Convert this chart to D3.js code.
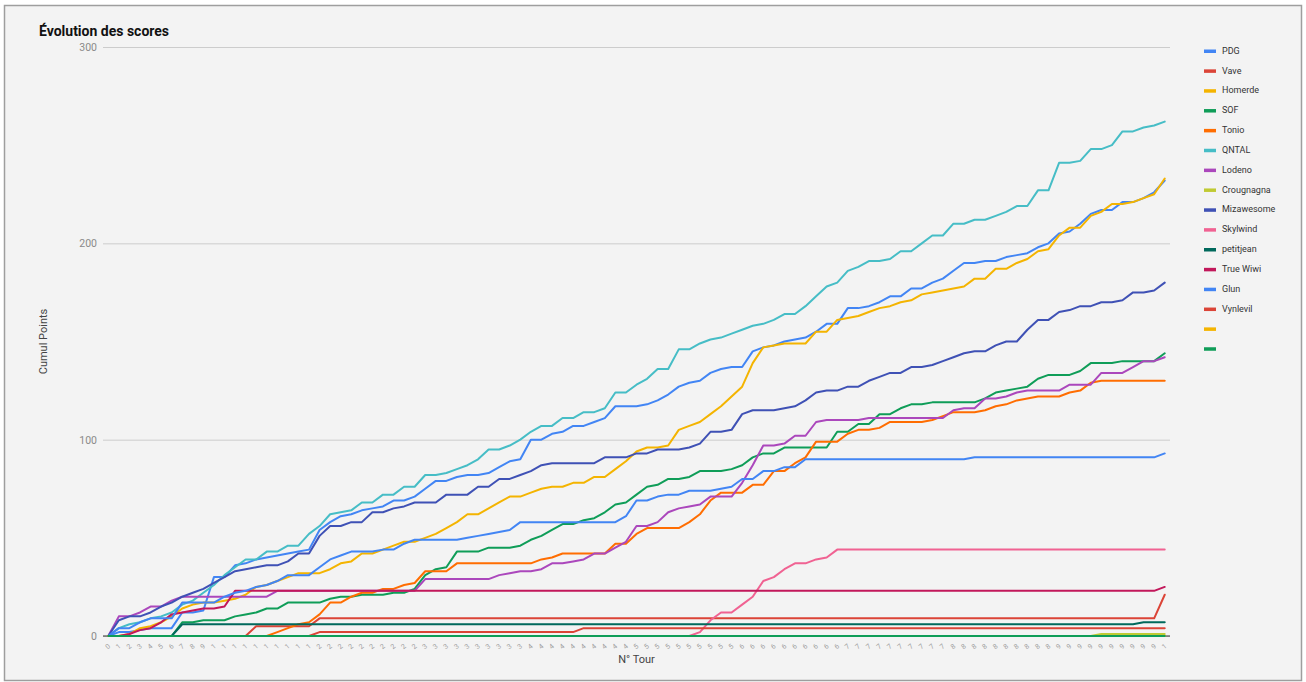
<!DOCTYPE html>
<html>
<head>
<meta charset="utf-8">
<script src="https://cdn.jsdelivr.net/npm/d3@7"></script>
<style>
  html, body { margin: 0; padding: 0; background: #ffffff; }
  svg { display: block; font-family: Roboto, "Noto Sans", Arial, sans-serif; }
</style>
</head>
<body>
<svg id="chart" width="1306" height="682"></svg>
<script>
// ---------- DATA ----------
const title = "Évolution des scores";
const xAxisTitle = "N° Tour";
const yAxisTitle = "Cumul Points";
const yTicks = [0, 100, 200, 300];

const rounds = [
  0,1,2,3,4,5,6,7,8,9,
  10,11,12,13,14,15,16,17,18,19,
  20,21,22,23,24,25,26,27,28,29,
  30,31,32,33,34,35,36,37,38,39,
  40,41,42,43,44,45,46,47,48,49,
  50,51,52,53,54,55,56,57,58,59,
  60,61,62,63,64,65,66,67,68,69,
  70,71,72,73,74,75,76,77,78,79,
  80,81,82,83,84,85,86,87,88,89,
  90,91,92,93,94,95,96,97,98,99,
  100
];

const seriesNames = ["PDG","Vave","Homerde","SOF","Tonio","QNTAL","Lodeno","Crougnagna",
  "Mizawesome","Skylwind","petitjean","True Wiwi","Glun","Vynlevil","",""];
const seriesColors = ["#4285F4","#DB4437","#F4B400","#0F9D58","#FF6D01","#46BDC6","#AB47BC","#C0CA33",
  "#3F51B5","#F06292","#00695C","#C2185B","#4285F4","#DB4437","#F4B400","#0F9D58"];

const pdg = [
  0,2,2,3,4,4,4,12,12,13,
  30,30,36,37,39,40,41,42,43,44,
  54,58,61,62,64,65,66,69,69,71,
  75,79,79,81,82,82,83,86,89,90,
  100,100,103,104,107,107,109,111,117,117,
  117,118,120,123,127,129,130,134,136,137,
  137,145,147,148,150,151,152,155,159,159,
  167,167,168,170,173,173,177,177,180,182,
  186,190,190,191,191,193,194,195,198,200,
  205,206,210,215,217,217,221,221,223,226,
  232
];
const vave = [
  0,0,0,0,0,0,0,0,0,0,
  0,0,0,0,5,5,5,5,5,5,
  9,9,9,9,9,9,9,9,9,9,
  9,9,9,9,9,9,9,9,9,9,
  9,9,9,9,9,9,9,9,9,9,
  9,9,9,9,9,9,9,9,9,9,
  9,9,9,9,9,9,9,9,9,9,
  9,9,9,9,9,9,9,9,9,9,
  9,9,9,9,9,9,9,9,9,9,
  9,9,9,9,9,9,9,9,9,9,
  21
];
const homerde = [
  0,0,1,4,5,7,10,14,16,17,
  17,18,19,21,25,26,28,30,32,32,
  32,34,37,38,42,42,44,46,48,48,
  50,52,55,58,62,62,65,68,71,71,
  73,75,76,76,78,78,81,81,85,89,
  94,96,96,97,105,107,109,113,117,122,
  127,139,147,148,149,149,149,155,155,161,
  162,163,165,167,168,170,171,174,175,176,
  177,178,182,182,187,187,190,192,196,197,
  204,208,208,214,216,220,220,221,223,225,
  233
];
const sof = [
  0,0,0,0,0,0,0,7,7,8,
  8,8,10,11,12,14,14,17,17,17,
  17,19,20,20,21,21,21,22,22,24,
  31,34,35,43,43,43,45,45,45,46,
  49,51,54,57,57,59,60,63,67,68,
  72,76,77,80,80,81,84,84,84,85,
  87,91,93,93,96,96,96,96,96,104,
  104,108,108,113,113,116,118,118,119,119,
  119,119,119,121,124,125,126,127,131,133,
  133,133,135,139,139,139,140,140,140,140,
  144
];
const tonio = [
  0,0,0,0,0,0,0,0,0,0,
  0,0,0,0,0,0,2,4,6,7,
  11,17,17,20,22,22,24,24,26,27,
  33,33,33,37,37,37,37,37,37,37,
  37,39,40,42,42,42,42,42,47,47,
  52,55,55,55,55,58,62,69,73,73,
  73,77,77,84,84,88,91,99,99,99,
  103,105,105,106,109,109,109,109,110,112,
  114,114,114,115,117,118,120,121,122,122,
  122,124,125,129,130,130,130,130,130,130,
  130
];
const qntal = [
  0,4,6,7,9,10,12,16,18,22,
  26,31,35,39,39,43,43,46,46,52,
  56,62,63,64,68,68,72,72,76,76,
  82,82,83,85,87,90,95,95,97,100,
  104,107,107,111,111,114,114,116,124,124,
  128,131,136,136,146,146,149,151,152,154,
  156,158,159,161,164,164,168,173,178,180,
  186,188,191,191,192,196,196,200,204,204,
  210,210,212,212,214,216,219,219,227,227,
  241,241,242,248,248,250,257,257,259,260,
  262
];
const lodeno = [
  0,10,10,12,15,15,18,20,20,20,
  20,20,20,20,20,20,23,23,23,23,
  23,23,23,23,23,23,23,23,23,23,
  29,29,29,29,29,29,29,31,32,33,
  33,34,37,37,38,39,42,42,45,48,
  56,56,58,63,65,66,67,71,71,71,
  78,87,97,97,98,102,102,109,110,110,
  110,110,111,111,111,111,111,111,111,111,
  115,116,116,121,121,122,124,125,125,125,
  125,128,128,128,134,134,134,137,140,140,
  142
];
const crougnagna = [
  0,0,0,0,0,0,0,0,0,0,
  0,0,0,0,0,0,0,0,0,0,
  0,0,0,0,0,0,0,0,0,0,
  0,0,0,0,0,0,0,0,0,0,
  0,0,0,0,0,0,0,0,0,0,
  0,0,0,0,0,0,0,0,0,0,
  0,0,0,0,0,0,0,0,0,0,
  0,0,0,0,0,0,0,0,0,0,
  0,0,0,0,0,0,0,0,0,0,
  0,0,0,0,1,1,1,1,1,1,
  1
];
const mizawesome = [
  0,8,10,10,12,15,17,20,22,24,
  27,30,33,34,35,36,36,38,42,42,
  51,56,56,58,58,63,63,65,66,68,
  68,68,72,72,72,76,76,80,80,82,
  84,87,88,88,88,88,88,91,91,91,
  93,93,95,95,95,96,98,104,104,105,
  113,115,115,115,116,117,120,124,125,125,
  127,127,130,132,134,134,137,137,138,140,
  142,144,145,145,148,150,150,156,161,161,
  165,166,168,168,170,170,171,175,175,176,
  180
];
const skylwind = [
  0,0,0,0,0,0,0,0,0,0,
  0,0,0,0,0,0,0,0,0,0,
  0,0,0,0,0,0,0,0,0,0,
  0,0,0,0,0,0,0,0,0,0,
  0,0,0,0,0,0,0,0,0,0,
  0,0,0,0,0,0,2,8,12,12,
  16,20,28,30,34,37,37,39,40,44,
  44,44,44,44,44,44,44,44,44,44,
  44,44,44,44,44,44,44,44,44,44,
  44,44,44,44,44,44,44,44,44,44,
  44
];
const petitjean = [
  0,0,0,0,0,0,0,6,6,6,
  6,6,6,6,6,6,6,6,6,6,
  6,6,6,6,6,6,6,6,6,6,
  6,6,6,6,6,6,6,6,6,6,
  6,6,6,6,6,6,6,6,6,6,
  6,6,6,6,6,6,6,6,6,6,
  6,6,6,6,6,6,6,6,6,6,
  6,6,6,6,6,6,6,6,6,6,
  6,6,6,6,6,6,6,6,6,6,
  6,6,6,6,6,6,6,6,7,7,
  7
];
const trueWiwi = [
  0,0,1,3,4,7,11,12,13,14,
  14,15,23,23,23,23,23,23,23,23,
  23,23,23,23,23,23,23,23,23,23,
  23,23,23,23,23,23,23,23,23,23,
  23,23,23,23,23,23,23,23,23,23,
  23,23,23,23,23,23,23,23,23,23,
  23,23,23,23,23,23,23,23,23,23,
  23,23,23,23,23,23,23,23,23,23,
  23,23,23,23,23,23,23,23,23,23,
  23,23,23,23,23,23,23,23,23,23,
  25
];
const glun = [
  0,4,4,7,9,9,9,17,17,17,
  17,20,22,23,25,26,28,31,31,31,
  35,39,41,43,43,43,44,44,47,49,
  49,49,49,49,50,51,52,53,54,58,
  58,58,58,58,58,58,58,58,58,61,
  69,69,71,72,72,74,74,74,75,76,
  80,80,84,84,86,86,90,90,90,90,
  90,90,90,90,90,90,90,90,90,90,
  90,90,91,91,91,91,91,91,91,91,
  91,91,91,91,91,91,91,91,91,91,
  93
];
const vynlevil = [
  0,0,0,0,0,0,0,0,0,0,
  0,0,0,0,0,0,0,0,0,0,
  2,2,2,2,2,2,2,2,2,2,
  2,2,2,2,2,2,2,2,2,2,
  2,2,2,2,2,4,4,4,4,4,
  4,4,4,4,4,4,4,4,4,4,
  4,4,4,4,4,4,4,4,4,4,
  4,4,4,4,4,4,4,4,4,4,
  4,4,4,4,4,4,4,4,4,4,
  4,4,4,4,4,4,4,4,4,4,
  4
];
const unnamedA = [
  0,0,0,0,0,0,0,0,0,0,
  0,0,0,0,0,0,0,0,0,0,
  0,0,0,0,0,0,0,0,0,0,
  0,0,0,0,0,0,0,0,0,0,
  0,0,0,0,0,0,0,0,0,0,
  0,0,0,0,0,0,0,0,0,0,
  0,0,0,0,0,0,0,0,0,0,
  0,0,0,0,0,0,0,0,0,0,
  0,0,0,0,0,0,0,0,0,0,
  0,0,0,0,0,0,0,0,0,0,
  0
];
const unnamedB = [
  0,0,0,0,0,0,0,0,0,0,
  0,0,0,0,0,0,0,0,0,0,
  0,0,0,0,0,0,0,0,0,0,
  0,0,0,0,0,0,0,0,0,0,
  0,0,0,0,0,0,0,0,0,0,
  0,0,0,0,0,0,0,0,0,0,
  0,0,0,0,0,0,0,0,0,0,
  0,0,0,0,0,0,0,0,0,0,
  0,0,0,0,0,0,0,0,0,0,
  0,0,0,0,0,0,0,0,0,0,
  0
];

const seriesValues = [pdg, vave, homerde, sof, tonio, qntal, lodeno, crougnagna,
  mizawesome, skylwind, petitjean, trueWiwi, glun, vynlevil, unnamedA, unnamedB];

const series = seriesNames.map((name, k) => ({
  name, color: seriesColors[k], values: seriesValues[k]
}));

// ---------- LAYOUT ----------
const W = 1306, H = 682;
const plot = { left: 103, right: 1170, top: 47, bottom: 636 };

const svg = d3.select("#chart");

// outer sheet background + frame
svg.append("rect").attr("x", 0).attr("y", 0).attr("width", W).attr("height", H).attr("fill", "#ffffff");
svg.append("rect")
  .attr("x", 4.5).attr("y", 5.5).attr("width", 1297).attr("height", 675)
  .attr("fill", "#f3f3f3").attr("stroke", "#9e9e9e").attr("stroke-width", 1.5);

const x = d3.scalePoint().domain(rounds).range([plot.left, plot.right]).padding(0.5);
const y = d3.scaleLinear().domain([0, 300]).range([plot.bottom, plot.top]);

// gridlines + y labels
const yAxis = d3.axisLeft(y).tickValues(yTicks).tickSize(-(plot.right - plot.left)).tickPadding(6);
const gy = svg.append("g").attr("transform", `translate(${plot.left},0)`).call(yAxis);
gy.select(".domain").remove();
gy.selectAll(".tick line").attr("stroke", "#cccccc").attr("stroke-width", 1);
gy.selectAll(".tick text").attr("fill", "#8a8a8a").attr("font-size", "10.5px")
  .attr("font-family", "Roboto, sans-serif").attr("x", -6);

// x axis tick labels (truncated, slanted)
const xAxis = d3.axisBottom(x).tickSize(0).tickPadding(0)
  .tickFormat(d => String(d).charAt(0));
const gx = svg.append("g").attr("transform", `translate(0,${plot.bottom})`).call(xAxis);
gx.select(".domain").remove();
gx.selectAll(".tick text")
  .attr("fill", "#a0a0a0").attr("font-size", "7px").attr("font-family", "Roboto, sans-serif")
  .attr("text-anchor", "end").attr("dy", "0")
  .attr("transform", "translate(2,11) rotate(-40)");

// baseline
svg.append("line").attr("x1", plot.left).attr("x2", plot.right)
  .attr("y1", y(0)).attr("y2", y(0)).attr("stroke", "#333333").attr("stroke-width", 1);

// series lines
const line = d3.line().x((d, i) => x(rounds[i])).y(d => y(d));
svg.append("g").selectAll("path").data(series).join("path")
  .attr("d", s => line(s.values))
  .attr("fill", "none")
  .attr("stroke", s => s.color)
  .attr("stroke-width", 2)
  .attr("stroke-linejoin", "round")
  .attr("stroke-linecap", "round");

// title
svg.append("text").attr("x", 39).attr("y", 35.5).text(title)
  .attr("font-size", "14px").attr("font-weight", "bold").attr("fill", "#111111");

// axis titles
svg.append("text").attr("x", (plot.left + plot.right) / 2).attr("y", 663)
  .attr("text-anchor", "middle").attr("font-size", "11px").attr("fill", "#444444").text(xAxisTitle);
svg.append("text")
  .attr("transform", `translate(47,${(plot.top + plot.bottom) / 2}) rotate(-90)`)
  .attr("text-anchor", "middle").attr("font-size", "11px").attr("fill", "#444444").text(yAxisTitle);

// legend
const legend = svg.append("g");
const lg = legend.selectAll("g").data(series).join("g")
  .attr("transform", (d, k) => `translate(1204,${49.5 + k * 19.85})`);
lg.append("rect").attr("x", 0).attr("y", 0).attr("width", 12).attr("height", 3.5)
  .attr("fill", d => d.color);
lg.append("text").attr("x", 18).attr("y", 1).attr("dy", "0.35em")
  .attr("font-size", "9px").attr("fill", "#333333").text(d => d.name);
</script>
</body>
</html>
